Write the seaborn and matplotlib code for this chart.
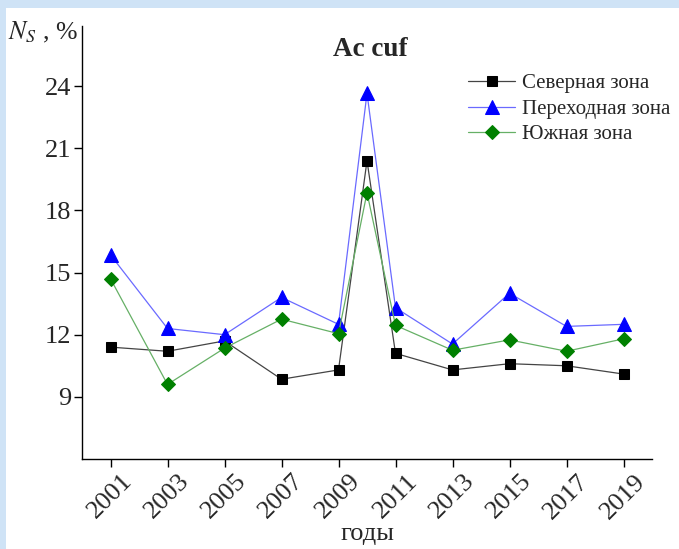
import matplotlib
matplotlib.use("Agg")
import matplotlib.pyplot as plt
import seaborn as sns
import pandas as pd
from matplotlib.patches import Rectangle

years = [2001, 2003, 2005, 2007, 2009, 2010, 2011, 2013, 2015, 2017, 2019]
north = [11.4, 11.2, 11.7, 9.85, 10.3, 20.4, 11.1, 10.3, 10.6, 10.5, 10.1]
trans = [15.85, 12.3, 12.0, 13.8, 12.5, 23.65, 13.3, 11.55, 14.0, 12.4, 12.5]
south = [14.7, 9.6, 11.35, 12.75, 12.05, 18.85, 12.45, 11.25, 11.75, 11.2, 11.8]
series_names = ["Северная зона", "Переходная зона", "Южная зона"]
xticks = list(range(2001, 2020, 2))
yticks = [9, 12, 15, 18, 21, 24]

sns.set_theme(style="ticks")
plt.rcParams['font.family'] = ['Liberation Serif', 'DejaVu Serif']
plt.rcParams['mathtext.fontset'] = 'stix'

fig = plt.figure(figsize=(6.79, 5.49), dpi=100)
fig.patch.set_facecolor('white')
# light blue frame on top and left
fig.add_artist(Rectangle((0, 1 - 8/549), 1, 8/549, transform=fig.transFigure,
                         facecolor='#cfe3f6', edgecolor='none', zorder=0))
fig.add_artist(Rectangle((0, 0), 6/679, 1, transform=fig.transFigure,
                         facecolor='#cfe3f6', edgecolor='none', zorder=0))

ax = fig.add_axes([82/679, 1 - 459/549, (652-82)/679, (459-26)/549])
ax.set_facecolor('none')

styles = [
    dict(color='#444444', marker='s', markerfacecolor='black', markeredgecolor='black', markersize=7.5),
    dict(color='#6a6aff', marker='^', markerfacecolor='blue', markeredgecolor='blue', markersize=10),
    dict(color='#66b066', marker='D', markerfacecolor='green', markeredgecolor='green', markersize=7.5),
]
for name, vals, st in zip(series_names, [north, trans, south], styles):
    df = pd.DataFrame({'year': years, 'val': vals})
    sns.lineplot(data=df, x='year', y='val', ax=ax, label=name, linewidth=0.9,
                 **st)

ax.set_xlim(2000, 2020)
ax.set_ylim(6, 26.9)
ax.set_xticks(xticks)
ax.set_yticks(yticks)
ax.set_xticklabels([str(x) for x in xticks], rotation=45, ha='center', fontsize=19)
ax.tick_params(axis='y', labelsize=19)
ax.tick_params(direction='out', length=6, width=1, color='black')
ax.tick_params(axis='x', pad=2)
ax.tick_params(axis='y', pad=2)
for s in ['top', 'right']:
    ax.spines[s].set_visible(False)
for s in ['left', 'bottom']:
    ax.spines[s].set_linewidth(1)
    ax.spines[s].set_color('black')

ax.set_xlabel('годы', fontsize=19, labelpad=0)
ax.set_ylabel('')
fig.text(8/679, 1 - 39/549, r'$N_S$ , %', fontsize=18.5, ha='left', va='baseline')
ax.text(370/679, 1 - 49/549, 'Ac cuf', transform=fig.transFigure, fontsize=19.5,
        fontweight='bold', ha='center', va='center')

leg = ax.legend(loc='upper left', bbox_to_anchor=(460/679, 1 - 65.5/549),
                bbox_transform=fig.transFigure, frameon=False,
                fontsize=15, handlelength=2.25, handletextpad=0.33, labelspacing=0.28,
                borderaxespad=0)

fig.savefig('out.png', dpi=100, facecolor='white')
